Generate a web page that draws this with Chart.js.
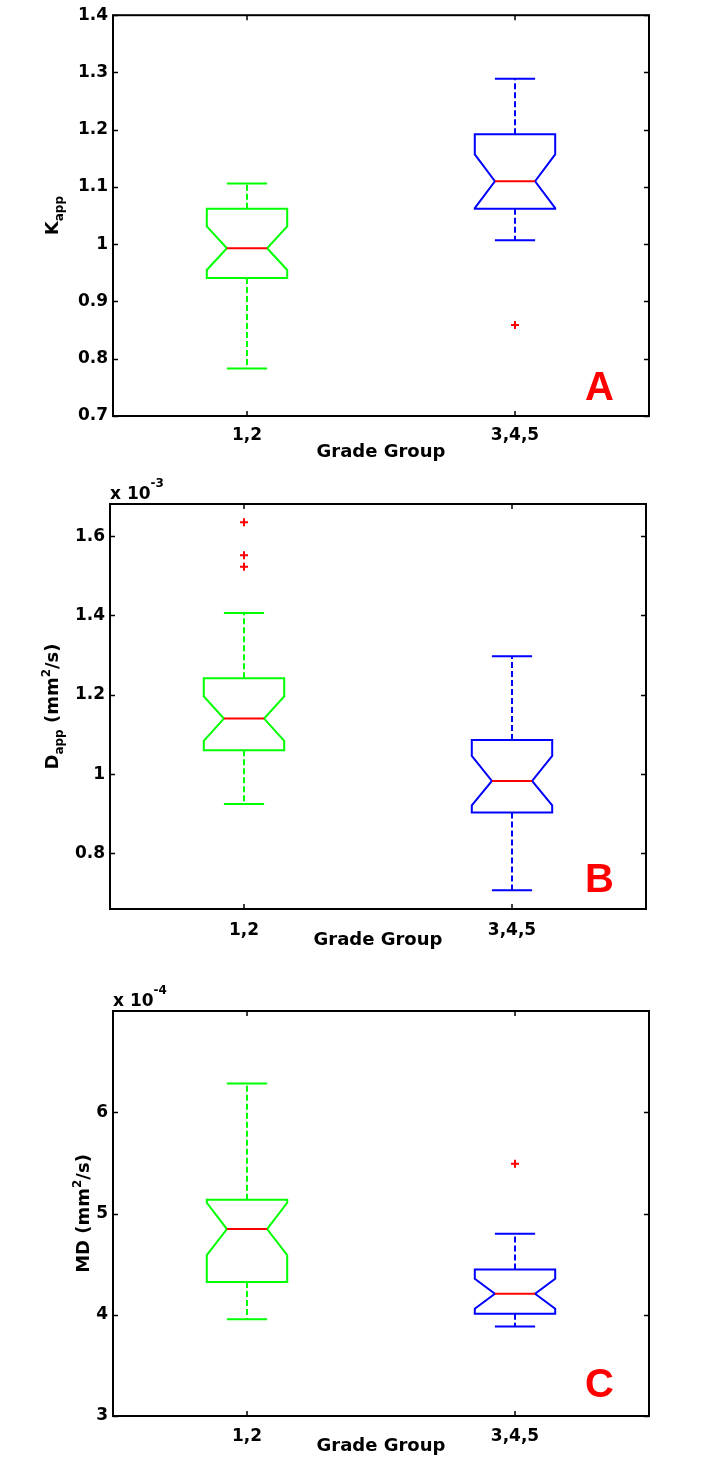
<!DOCTYPE html>
<html>
<head>
<meta charset="utf-8">
<script src="https://cdn.jsdelivr.net/npm/chart.js@4.4.1/dist/chart.umd.min.js"></script>
<style>
  html, body { margin: 0; padding: 0; background: #fff; }
  body { width: 717px; height: 1466px; position: relative; overflow: hidden; }
  .panel { position: absolute; left: 0; width: 717px; }
</style>
</head>
<body>
<div class="panel" style="top:0;height:470px"><canvas id="chartA" width="717" height="470"></canvas></div>
<div class="panel" style="top:470px;height:490px"><canvas id="chartB" width="717" height="490"></canvas></div>
<div class="panel" style="top:960px;height:506px"><canvas id="chartC" width="717" height="506"></canvas></div>
<script>
const groups = ['1,2', '3,4,5']
const groupColors = ['#00ff00', '#0000ff']

// A: Kapp
const kappTicks = [0.7, 0.8, 0.9, 1.0, 1.1, 1.2, 1.3, 1.4]
const kappTickLabels = ['0.7', '0.8', '0.9', '1', '1.1', '1.2', '1.3', '1.4']
const kappWhiskerLow = [0.783, 1.007]
const kappQ1 = [0.941, 1.062]
const kappNotchLow = [0.955, 1.063]
const kappMedian = [0.993, 1.110]
const kappNotchHigh = [1.031, 1.157]
const kappQ3 = [1.062, 1.192]
const kappWhiskerHigh = [1.106, 1.289]
const kappOutliers = [[], [0.859]]

// B: Dapp (x 10^-3 mm2/s)
const dappTicks = [0.8, 1.0, 1.2, 1.4, 1.6]
const dappTickLabels = ['0.8', '1', '1.2', '1.4', '1.6']
const dappWhiskerLow = [0.925, 0.707]
const dappQ1 = [1.060, 0.903]
const dappNotchLow = [1.084, 0.921]
const dappMedian = [1.140, 0.983]
const dappNotchHigh = [1.196, 1.046]
const dappQ3 = [1.242, 1.086]
const dappWhiskerHigh = [1.406, 1.297]
const dappOutliers = [[1.635, 1.552, 1.523], []]

// C: MD (x 10^-4 mm2/s)
const mdTicks = [3, 4, 5, 6]
const mdTickLabels = ['3', '4', '5', '6']
const mdWhiskerLow = [3.955, 3.885]
const mdQ1 = [4.323, 4.011]
const mdNotchLow = [4.588, 4.060]
const mdMedian = [4.846, 4.208]
const mdNotchHigh = [5.106, 4.356]
const mdQ3 = [5.136, 4.448]
const mdWhiskerHigh = [6.284, 4.800]
const mdOutliers = [[], [5.491]]

const FONT = '"DejaVu Sans", sans-serif'
Chart.defaults.font.family = FONT
Chart.defaults.color = '#000'

// draws a line of text pieces, some of them sub/superscript
function drawRich(ctx, parts, x, y, rotate) {
  ctx.save()
  ctx.translate(x, y)
  if (rotate) ctx.rotate(-Math.PI / 2)
  const widths = parts.map(p => {
    ctx.font = `bold ${p.size}px ${FONT}`
    return ctx.measureText(p.text).width
  })
  const total = widths.reduce((a, b) => a + b, 0)
  let cx = rotate ? -total / 2 : 0
  ctx.textBaseline = 'alphabetic'
  ctx.textAlign = 'left'
  ctx.fillStyle = '#000'
  parts.forEach((p, i) => {
    ctx.font = `bold ${p.size}px ${FONT}`
    ctx.fillText(p.text, cx, p.shift || 0)
    cx += widths[i]
  })
  ctx.restore()
}

function notchBoxPlugin(p) {
  const s = p.stats
  return {
    id: 'notchBox',
    afterDatasetsDraw(chart) {
      const {ctx, scales: {x, y}} = chart
      const unit = x.getPixelForValue(1) - x.getPixelForValue(0)
      const half = unit * 0.15, notch = unit * 0.075
      const py = v => y.getPixelForValue(v)
      groups.forEach((g, i) => {
        const cx = x.getPixelForValue(i)
        ctx.save()
        ctx.lineWidth = 2
        ctx.strokeStyle = groupColors[i]
        // whiskers
        ctx.setLineDash([6, 3])
        ctx.beginPath()
        ctx.moveTo(cx, py(s.q3[i])); ctx.lineTo(cx, py(s.whiskerHigh[i]))
        ctx.moveTo(cx, py(s.q1[i])); ctx.lineTo(cx, py(s.whiskerLow[i]))
        ctx.stroke()
        ctx.setLineDash([])
        ctx.beginPath()
        ctx.moveTo(cx - notch, py(s.whiskerHigh[i])); ctx.lineTo(cx + notch, py(s.whiskerHigh[i]))
        ctx.moveTo(cx - notch, py(s.whiskerLow[i])); ctx.lineTo(cx + notch, py(s.whiskerLow[i]))
        ctx.stroke()
        // notched box
        ctx.beginPath()
        ctx.moveTo(cx - half, py(s.q3[i]))
        ctx.lineTo(cx - half, py(s.notchHigh[i]))
        ctx.lineTo(cx - notch, py(s.median[i]))
        ctx.lineTo(cx - half, py(s.notchLow[i]))
        ctx.lineTo(cx - half, py(s.q1[i]))
        ctx.lineTo(cx + half, py(s.q1[i]))
        ctx.lineTo(cx + half, py(s.notchLow[i]))
        ctx.lineTo(cx + notch, py(s.median[i]))
        ctx.lineTo(cx + half, py(s.notchHigh[i]))
        ctx.lineTo(cx + half, py(s.q3[i]))
        ctx.closePath()
        ctx.stroke()
        // median
        ctx.strokeStyle = '#ff0000'
        ctx.beginPath()
        ctx.moveTo(cx - notch, py(s.median[i])); ctx.lineTo(cx + notch, py(s.median[i]))
        ctx.stroke()
        ctx.restore()
      })
    },
    afterDraw(chart) {
      const {ctx, chartArea: a, scales: {x, y}} = chart
      ctx.save()
      ctx.strokeStyle = '#000'
      ctx.lineWidth = 1.5
      ctx.beginPath()
      y.ticks.forEach(t => {
        const ty = Math.round(y.getPixelForValue(t.value)) + 0.5
        ctx.moveTo(a.left, ty); ctx.lineTo(a.left + 5, ty)
        ctx.moveTo(a.right, ty); ctx.lineTo(a.right - 5, ty)
      })
      groups.forEach((g, i) => {
        const tx = Math.round(x.getPixelForValue(i))
        ctx.moveTo(tx, a.bottom); ctx.lineTo(tx, a.bottom - 5)
        ctx.moveTo(tx, a.top); ctx.lineTo(tx, a.top + 5)
      })
      ctx.stroke()
      ctx.lineWidth = 2
      ctx.strokeRect(a.left, a.top, a.right - a.left, a.bottom - a.top)
      ctx.restore()

      drawRich(ctx, p.yTitle, p.yTitleX, (a.top + a.bottom) / 2, true)
      if (p.exponent) {
        drawRich(ctx, [{text: 'x 10', size: 17}, {text: p.exponent, size: 12, shift: -12}], a.left, a.top - 5, false)
      }
      ctx.save()
      ctx.font = 'bold 40px "Liberation Sans", Arial, sans-serif'
      ctx.fillStyle = '#ff0000'
      ctx.textAlign = 'center'
      ctx.textBaseline = 'alphabetic'
      ctx.fillText(p.letter, 599.5, p.letterBase)
      ctx.restore()
    }
  }
}

function makeChart(p) {
  const outlierData = p.outliers.flatMap((arr, i) => arr.map(v => ({x: groups[i], y: v})))
  return new Chart(document.getElementById(p.id), {
    type: 'line',
    data: {
      labels: groups,
      datasets: [{
        data: outlierData,
        showLine: false,
        pointStyle: 'cross',
        pointRadius: 4,
        pointBorderWidth: 2,
        borderColor: '#ff0000',
        backgroundColor: '#ff0000'
      }]
    },
    options: {
      responsive: false,
      animation: false,
      events: [],
      layout: {padding: {left: 0, top: p.area.top, right: 717 - p.area.right, bottom: 0}},
      plugins: {
        legend: {display: false},
        tooltip: {enabled: false}
      },
      scales: {
        x: {
          type: 'category',
          offset: true,
          grid: {display: false, drawTicks: false},
          border: {display: false},
          ticks: {font: {size: 17, weight: 'bold'}, padding: p.xTickPad, maxRotation: 0, autoSkip: false},
          title: {display: true, text: 'Grade Group', font: {size: 18, weight: 'bold'}, padding: {top: 0, bottom: p.xTitlePad}},
          afterFit: scale => { scale.height = p.h - p.area.bottom }
        },
        y: {
          min: p.yMin,
          max: p.yMax,
          grid: {display: false, drawTicks: false},
          border: {display: false},
          afterBuildTicks: scale => { scale.ticks = p.ticks.map(v => ({value: v})) },
          ticks: {
            font: {size: 17, weight: 'bold'},
            padding: 5,
            callback: (v, i) => p.tickLabels[i]
          },
          afterFit: scale => { scale.width = p.area.left }
        }
      }
    },
    plugins: [notchBoxPlugin(p)]
  })
}

makeChart({
  id: 'chartA', h: 470,
  area: {left: 113, top: 12, right: 649, bottom: 416},
  yMin: 0.7, yMax: 1.4,
  ticks: kappTicks, tickLabels: kappTickLabels,
  stats: {whiskerLow: kappWhiskerLow, q1: kappQ1, notchLow: kappNotchLow, median: kappMedian, notchHigh: kappNotchHigh, q3: kappQ3, whiskerHigh: kappWhiskerHigh},
  outliers: kappOutliers,
  yTitle: [{text: 'K', size: 18}, {text: 'app', size: 12, shift: 5}],
  yTitleX: 58,
  exponent: null,
  letter: 'A', letterBase: 400,
  xTickPad: 9, xTitlePad: 7
})

makeChart({
  id: 'chartB', h: 490,
  area: {left: 110, top: 34, right: 646, bottom: 439},
  yMin: 0.660, yMax: 1.681,
  ticks: dappTicks, tickLabels: dappTickLabels,
  stats: {whiskerLow: dappWhiskerLow, q1: dappQ1, notchLow: dappNotchLow, median: dappMedian, notchHigh: dappNotchHigh, q3: dappQ3, whiskerHigh: dappWhiskerHigh},
  outliers: dappOutliers,
  yTitle: [{text: 'D', size: 18}, {text: 'app', size: 12, shift: 5}, {text: ' (mm', size: 18}, {text: '2', size: 12, shift: -8}, {text: '/s)', size: 18}],
  yTitleX: 58,
  exponent: '-3',
  letter: 'B', letterBase: 422,
  xTickPad: 11, xTitlePad: 9
})

makeChart({
  id: 'chartC', h: 506,
  area: {left: 113, top: 51, right: 649, bottom: 456},
  yMin: 3, yMax: 7,
  ticks: mdTicks, tickLabels: mdTickLabels,
  stats: {whiskerLow: mdWhiskerLow, q1: mdQ1, notchLow: mdNotchLow, median: mdMedian, notchHigh: mdNotchHigh, q3: mdQ3, whiskerHigh: mdWhiskerHigh},
  outliers: mdOutliers,
  yTitle: [{text: 'MD (mm', size: 18}, {text: '2', size: 12, shift: -8}, {text: '/s)', size: 18}],
  yTitleX: 89,
  exponent: '-4',
  letter: 'C', letterBase: 436.5,
  xTickPad: 10, xTitlePad: 9
})
</script>
</body>
</html>
